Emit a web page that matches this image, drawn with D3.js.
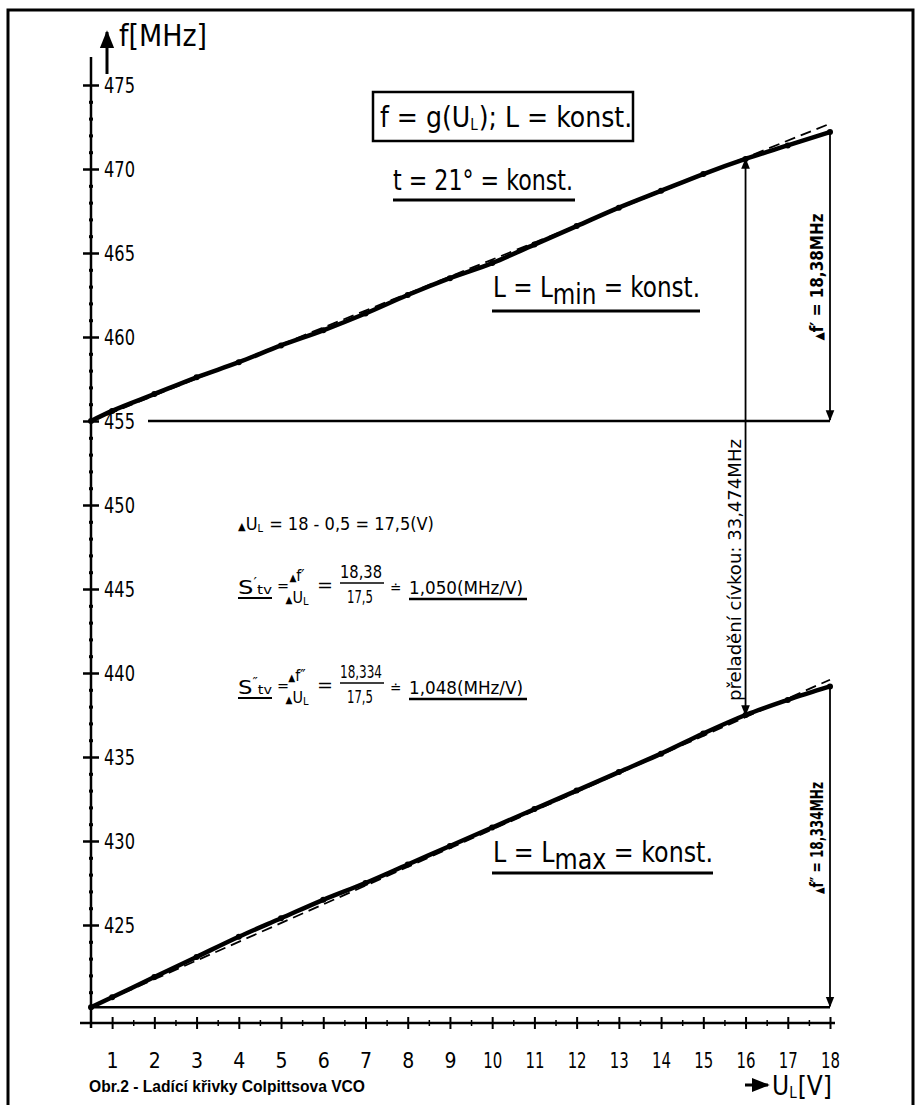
<!DOCTYPE html>
<html><head><meta charset="utf-8">
<script src="https://cdn.jsdelivr.net/npm/d3@7/dist/d3.min.js"></script>
<style>body{margin:0;background:#fff} svg{display:block}</style>
</head><body>
<svg id="c" width="917" height="1105"></svg>
<script>
// ---------- data ----------
const voltages = [0.5,1,2,3,4,5,6,7,8,9,10,11,12,13,14,15,16,17,18];
const fLmin = [455.0,455.6,456.6,457.6,458.5,459.5,460.4,461.4,462.5,463.5,464.4,465.5,466.6,467.7,468.7,469.7,470.6,471.4,472.2];
const fLmax = [420.1,420.7,421.9,423.1,424.3,425.4,426.5,427.5,428.6,429.7,430.8,431.9,433.0,434.1,435.2,436.4,437.5,438.4,439.2];
const refLineLmin = [455.0,472.7];   // dashed straight line, values at 0.5 V and 18 V
const refLineLmax = [420.1,439.6];
const yTicks = [425,430,435,440,445,450,455,460,465,470,475];
const xTicks = [1,2,3,4,5,6,7,8,9,10,11,12,13,14,15,16,17,18];
const uStart = 0.5, uEnd = 18, uTune = 16;

// ---------- setup ----------
const FONT = "'DejaVu Sans Condensed','Liberation Sans Narrow',sans-serif";
const svg = d3.select('#c');
svg.append('rect').attr('width',917).attr('height',1105).attr('fill','#fff');
const x = d3.scaleLinear().domain([0.5,18]).range([91,830]);
const y = d3.scaleLinear().domain([420,475]).range([1009,85]);

const defs = svg.append('defs');
defs.append('marker').attr('id','ah').attr('viewBox','0 0 10 10').attr('refX',9).attr('refY',5)
  .attr('markerWidth',6).attr('markerHeight',6).attr('orient','auto-start-reverse')
  .append('path').attr('d','M0,1 L10,5 L0,9 Z').attr('fill','#000');

// frame
svg.append('path').attr('d','M8,1105 V10 H913 V1105').attr('fill','none').attr('stroke','#000').attr('stroke-width',3);

function T(x0,y0,str,size,opts={}){
  const t = svg.append('text').attr('x',x0).attr('y',y0).attr('font-family',opts.family||FONT)
    .attr('font-size',size).attr('fill','#000').text(str);
  if(opts.len){t.attr('textLength',opts.len).attr('lengthAdjust','spacingAndGlyphs');}
  if(opts.anchor) t.attr('text-anchor',opts.anchor);
  if(opts.weight) t.attr('font-weight',opts.weight);
  return t;
}
function line(x1,y1,x2,y2,w,extra){
  const l = svg.append('line').attr('x1',x1).attr('y1',y1).attr('x2',x2).attr('y2',y2)
    .attr('stroke','#000').attr('stroke-width',w);
  if(extra) extra(l);
  return l;
}

// ---------- y axis ----------
line(91,57,91,1028,2.5);
const yMajor = svg.append('g').attr('transform','translate(83,0)')
  .call(d3.axisRight(y).tickValues(yTicks).tickSize(16).tickPadding(5).tickFormat(d3.format('d')));
yMajor.select('.domain').remove();
yMajor.selectAll('line').attr('stroke','#000').attr('stroke-width',2.5);
yMajor.selectAll('text').attr('font-family',FONT).attr('font-size',22).attr('fill','#000')
  .attr('textLength',31).attr('lengthAdjust','spacingAndGlyphs');
const minorY = d3.range(421,476).filter(v=>v%5!==0);
const yMinor = svg.append('g').attr('transform','translate(89,0)')
  .call(d3.axisRight(y).tickValues(minorY).tickSize(4).tickFormat(''));
yMinor.select('.domain').remove();
yMinor.selectAll('line').attr('stroke','#000').attr('stroke-width',3);

// f[MHz] label with arrow
line(107,74,107,32,3,l=>l.attr('marker-end','url(#ah)'));
T(119,46,'f[MHz]',30,{len:88});

// ---------- x axis ----------
line(80,1023,835,1023,2.5);
const xMajor = svg.append('g').attr('transform','translate(0,1017)')
  .call(d3.axisBottom(x).tickValues(xTicks).tickSize(12).tickPadding(24).tickFormat(d3.format('d')));
xMajor.select('.domain').remove();
xMajor.selectAll('line').attr('stroke','#000').attr('stroke-width',2);
xMajor.selectAll('text').attr('font-family',FONT).attr('font-size',21).attr('fill','#000')
  .each(function(d){ if(d>=10) d3.select(this).attr('textLength',19).attr('lengthAdjust','spacingAndGlyphs'); });
const xMinor = svg.append('g').attr('transform','translate(0,1020)')
  .call(d3.axisBottom(x).tickValues(d3.range(1.5,18,1)).tickSize(6).tickFormat(''));
xMinor.select('.domain').remove();
xMinor.selectAll('line').attr('stroke','#000').attr('stroke-width',1.5);

// x label
line(745,1085,768,1085,3,l=>l.attr('marker-end','url(#ah)'));
const ux = T(772,1095,'',26,{});
ux.append('tspan').text('U');
ux.append('tspan').attr('font-size',15).attr('dy',3).text('L');
ux.append('tspan').attr('dy',-3).attr('dx',1).text('[V]');

T(89,1092,'Obr.2 - Ladící křivky Colpittsova VCO',16,{family:"'Liberation Sans',Arial,sans-serif",weight:'bold',len:276});

// ---------- curves ----------
const ptsMin = voltages.map((v,i)=>({v,f:fLmin[i]}));
const ptsMax = voltages.map((v,i)=>({v,f:fLmax[i]}));
const gen = d3.line().x(d=>x(d.v)).y(d=>y(d.f)).curve(d3.curveMonotoneX);
[refLineLmin,refLineLmax].forEach(ref=>{
  svg.append('path').datum([{v:uStart,f:ref[0]},{v:uEnd,f:ref[1]}]).attr('d',d3.line().x(d=>x(d.v)).y(d=>y(d.f)))
    .attr('fill','none').attr('stroke','#000').attr('stroke-width',1.8).attr('stroke-dasharray','11,6');
});
[ptsMin,ptsMax].forEach(p=>{
  svg.append('path').datum(p).attr('d',gen).attr('fill','none').attr('stroke','#000')
    .attr('stroke-width',4.5).attr('stroke-linejoin','round').attr('stroke-linecap','round');
  svg.append('g').selectAll('circle').data(p).join('circle')
    .attr('cx',d=>x(d.v)).attr('cy',d=>y(d.f)).attr('r',3).attr('fill','#000');
});

// ---------- annotations ----------
const iEnd = voltages.indexOf(uEnd), iTune = voltages.indexOf(uTune);
line(148,y(fLmin[0]),x(uEnd),y(fLmin[0]),2.5);
line(x(uEnd),y(fLmin[iEnd]),x(uEnd),y(fLmin[0])-1,1.8,l=>l.attr('marker-end','url(#ah)'));
line(x(uStart),y(fLmax[0]),x(uEnd),y(fLmax[0]),2.5);
line(x(uEnd),y(fLmax[iEnd]),x(uEnd),y(fLmax[0])-1,1.8,l=>l.attr('marker-end','url(#ah)'));
line(x(uTune),y(fLmin[iTune]),x(uTune),y(fLmax[iTune]),1.8,l=>l.attr('marker-end','url(#ah)').attr('marker-start','url(#ah)'));

function rot(cx,cy,build,size,len,weight){
  const t = svg.append('text').attr('transform',`translate(${cx},${cy}) rotate(-90)`)
    .attr('text-anchor','middle').attr('font-family',FONT).attr('font-size',size).attr('fill','#000');
  if(weight) t.attr('font-weight',weight);
  build(t);
  if(len) t.attr('textLength',len).attr('lengthAdjust','spacingAndGlyphs');
}
rot(823,277,t=>{t.append('tspan').attr('font-size',12).text('▲');t.append('tspan').text('f′ = 18,38MHz');},17,127,'bold');
rot(741,570,t=>{t.text('přeladění cívkou: 33,474MHz');},18,262);
rot(823,838,t=>{t.append('tspan').attr('font-size',12).text('▲');t.append('tspan').text('f″ = 18,334MHz');},17,112,'bold');

// title box
svg.append('rect').attr('x',373).attr('y',92).attr('width',260).attr('height',49)
  .attr('fill','none').attr('stroke','#000').attr('stroke-width',2.5);
const tt = T(380,127,'',28,{});
tt.append('tspan').text('f = g(U');
tt.append('tspan').attr('font-size',15).attr('dy',3).text('L');
tt.append('tspan').attr('dy',-3).attr('dx',1).text('); L = konst.');

T(393,190,'t = 21° = konst.',29,{len:180});
line(393,200,575,200,3);

const lm = T(493,297,'',28,{len:207});
lm.append('tspan').text('L = L');
lm.append('tspan').attr('dy',7).text('min');
lm.append('tspan').attr('dy',-7).text(' = konst.');
line(492,311,700,311,3);

const lx = T(493,862,'',28,{len:220});
lx.append('tspan').text('L = L');
lx.append('tspan').attr('dy',7).text('max');
lx.append('tspan').attr('dy',-7).text(' = konst.');
line(492,873,713,873,3);

// ---------- formulas ----------
const f1 = T(238,530,'',18,{});
f1.append('tspan').attr('font-size',11).text('▲');
f1.append('tspan').text('U');
f1.append('tspan').attr('font-size',11).attr('dy',2).text('L');
f1.append('tspan').attr('dy',-2).attr('dx',1).text(' = 18 - 0,5 = 17,5(V)');

function formula(dy, prime, num, res){
  const s = T(238,594+dy,'',19,{len:34});
  s.append('tspan').text('S');
  s.append('tspan').attr('font-size',12).attr('dy',-8).text(prime);
  s.append('tspan').attr('font-size',12).attr('dy',8).text('tv');
  line(238,598+dy,272,598+dy,2);
  T(277,591+dy,'=',16);
  const n1 = T(297,581+dy,'',16,{anchor:'middle'});
  n1.append('tspan').attr('font-size',10).text('▲');
  n1.append('tspan').text('f'+prime);
  const d1 = T(297,603+dy,'',16,{anchor:'middle'});
  d1.append('tspan').attr('font-size',10).text('▲');
  d1.append('tspan').text('U');
  d1.append('tspan').attr('font-size',11).attr('dy',2).text('L');
  T(317,591+dy,'=',18,{len:16});
  T(361,578+dy,num,17,{anchor:'middle',len:42});
  line(340,583+dy,384,583+dy,1.5);
  T(360,603+dy,'17,5',17,{anchor:'middle',len:26});
  T(390,593+dy,'≐',15);
  T(409,594+dy,res,18,{len:114});
  line(409,599+dy,527,599+dy,2.5);
}
formula(0,'′','18,38','1,050(MHz/V)');
formula(100,'″','18,334','1,048(MHz/V)');
</script>
</body></html>
